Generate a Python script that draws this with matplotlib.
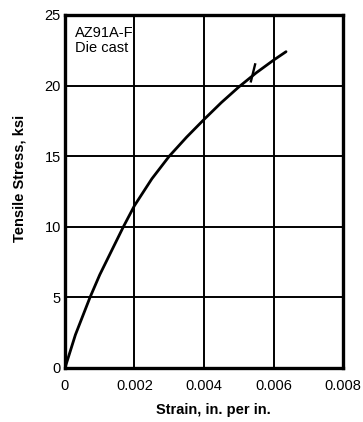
import matplotlib
matplotlib.use("Agg")
import matplotlib.pyplot as plt

# Stress-strain curve for die-cast AZ91A-F
strain = [0, 0.0003, 0.00072, 0.001, 0.0012, 0.0015, 0.00168, 0.002,
          0.0025, 0.003, 0.0035, 0.004, 0.0045, 0.005, 0.0055, 0.006, 0.00636]
stress = [0, 2.35, 5.0, 6.6, 7.6, 9.1, 10.0, 11.5,
          13.4, 15.0, 16.35, 17.6, 18.8, 19.9, 20.9, 21.8, 22.4]

# short marker stroke across the curve
mark_strain = [0.00535, 0.00547]
mark_stress = [20.3, 21.5]

x_ticks = [0, 0.002, 0.004, 0.006, 0.008]
x_tick_labels = ["0", "0.002", "0.004", "0.006", "0.008"]
y_ticks = [0, 5, 10, 15, 20, 25]
y_tick_labels = ["0", "5", "10", "15", "20", "25"]

plt.rcParams["font.family"] = ["Liberation Sans", "DejaVu Sans"]

fig = plt.figure(figsize=(3.63, 4.22), dpi=100)
ax = fig.add_axes([0.179, 0.128, 0.766, 0.8365])

ax.plot(strain, stress, color="black", lw=2.0, solid_capstyle="round",
        solid_joinstyle="round", zorder=3)
ax.plot(mark_strain, mark_stress, color="black", lw=1.7, zorder=3)

ax.set_xlim(0, 0.008)
ax.set_ylim(0, 25)
ax.set_xticks(x_ticks)
ax.set_xticklabels(x_tick_labels)
ax.set_yticks(y_ticks)
ax.set_yticklabels(y_tick_labels)
ax.tick_params(length=0, labelsize=10.5, colors="black")
ax.tick_params(axis="x", pad=8)
ax.tick_params(axis="y", pad=3)

ax.grid(True, color="black", lw=1.4)
ax.set_axisbelow(True)
for s in ax.spines.values():
    s.set_linewidth(2.4)
    s.set_color("black")

ax.set_xlabel("Strain, in. per in.", fontsize=10.5, fontweight="bold")
ax.xaxis.label.set_va("center")
ax.xaxis.set_label_coords(0.532, -0.119)
ax.set_ylabel("Tensile Stress, ksi", fontsize=10.5, fontweight="bold")
ax.yaxis.label.set_va("center")
ax.yaxis.set_label_coords(-0.162, 0.538)

ax.text(0.00029, 24.25, "AZ91A-F\nDie cast", fontsize=10.5, va="top", ha="left",
        linespacing=1.1, zorder=4)

fig.savefig("out.png", dpi=100, facecolor="white")
